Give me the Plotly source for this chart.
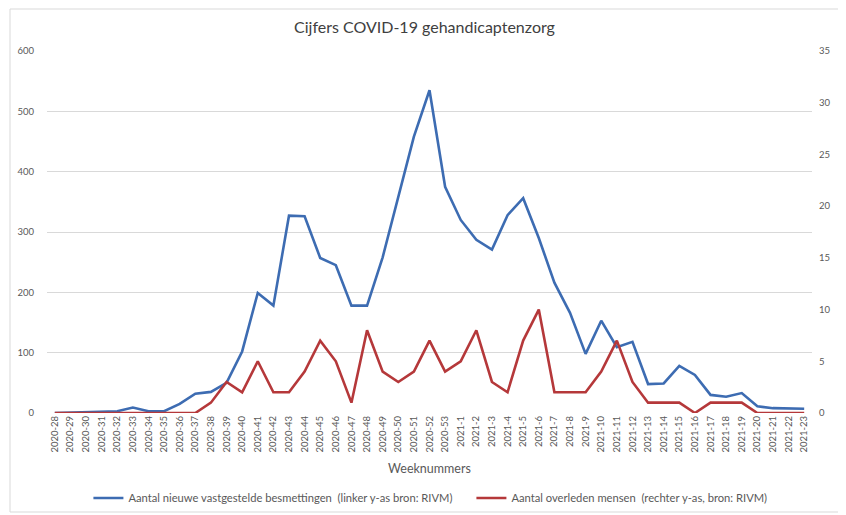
import plotly.graph_objects as go

weeks = [f"2020-{w}" for w in range(28, 54)] + [f"2021-{w}" for w in range(1, 24)]

besmettingen = [0, 1, 2, 3, 3, 9, 3, 3, 15, 32, 35, 50, 102, 199, 178, 327, 326,
                257, 245, 178, 178, 258, 360, 458, 535, 375, 320, 287, 271, 328,
                356, 290, 216, 166, 98, 153, 109, 118, 48, 49, 78, 63, 30, 27,
                33, 11, 8, 8, 7]

overleden = [0, 0, 0, 0, 0, 0, 0, 0, 0, 0, 1, 3, 2, 5, 2, 2, 4, 7, 5, 1, 8, 4, 3,
             4, 7, 4, 5, 8, 3, 2, 7, 10, 2, 2, 2, 4, 7, 3, 1, 1, 1, 0, 1, 1, 1,
             0, 0, 0, 0]

name_blue = "Aantal nieuwe vastgestelde besmettingen  (linker y-as bron: RIVM)"
name_red = "Aantal overleden mensen  (rechter y-as, bron: RIVM)"

FONT = "Lato"
GRAY = "#595959"

# The page body has an 8px margin, so the figure is sized and placed 8px inside the window.
W, H = 838, 507
L, R, T, B = 39, 34, 43, 102
PW, PH = W - L - R, H - T - B

fig = go.Figure()
fig.add_trace(go.Scatter(x=weeks, y=besmettingen, mode="lines", name=name_blue,
                         line=dict(color="#3d6cb2", width=2.6), yaxis="y"))
fig.add_trace(go.Scatter(x=weeks, y=overleden, mode="lines", name=name_red,
                         line=dict(color="#b5383a", width=2.6), yaxis="y2"))

fig.update_layout(
    width=W, height=H,
    margin=dict(l=L, r=R, t=T, b=B, autoexpand=False),
    paper_bgcolor="white", plot_bgcolor="white",
    font=dict(family=FONT, color=GRAY, size=10),
    title=dict(text="Cijfers COVID-19 gehandicaptenzorg", x=0.497, xanchor="center",
               y=1 - 19 / H, yref="container", yanchor="middle",
               font=dict(size=16, color="#404040", family=FONT)),
    xaxis=dict(type="category", range=[-0.5, 48.5], tickangle=-90, automargin=False,
               tickfont=dict(size=9.5, color=GRAY), showgrid=False,
               showline=False, ticks="",
               title=dict(text="Weeknummers", font=dict(size=12.5, color=GRAY), standoff=12)),
    yaxis=dict(range=[0, 600], dtick=100, showgrid=True, gridcolor="#d9d9d9",
               gridwidth=1, zeroline=False, showline=False, ticks="", automargin=False,
               tickfont=dict(size=9.5, color=GRAY), ticklabelstandoff=12),
    yaxis2=dict(range=[0, 35], dtick=5, overlaying="y", side="right", showgrid=False,
                zeroline=False, showline=False, ticks="", automargin=False,
                tickfont=dict(size=9.5, color=GRAY), ticklabelstandoff=6),
    legend=dict(orientation="h", x=0.553, xanchor="center", xref="container",
                y=1 - 490 / H, yanchor="middle", yref="container",
                font=dict(size=11.2, color=GRAY), bgcolor="rgba(0,0,0,0)",
                entrywidth=338, entrywidthmode="pixels"),
    showlegend=True,
)

fig.add_shape(type="rect", xref="paper", yref="paper",
              x0=(2 - L) / PW, x1=(835 - L) / PW,
              y0=(H - B - 504) / PH, y1=(H - B - 1) / PH,
              line=dict(color="#d9d9d9", width=1), fillcolor="rgba(0,0,0,0)", layer="below")

fig.write_html("out.html")
